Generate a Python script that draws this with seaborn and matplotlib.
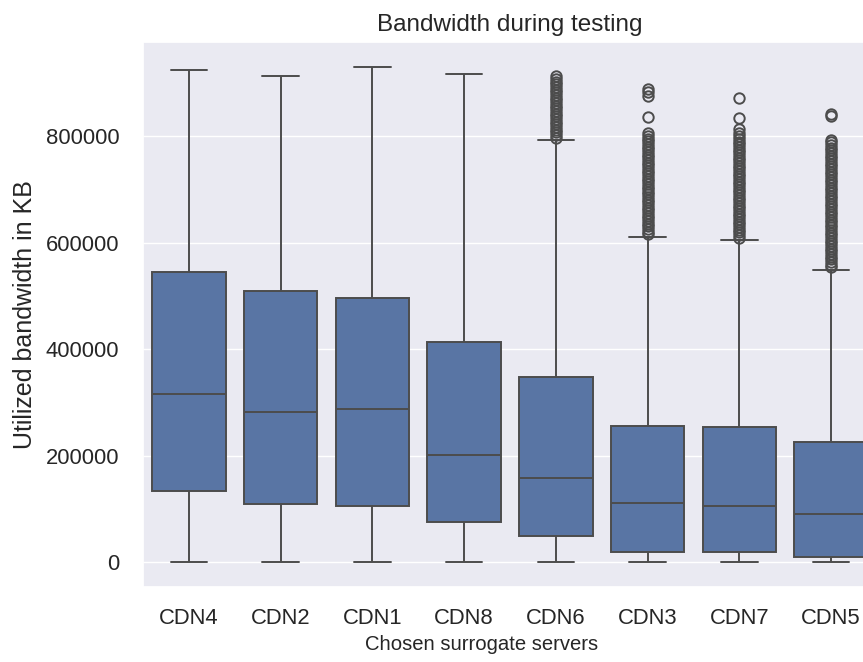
import matplotlib
matplotlib.use("Agg")
import matplotlib.pyplot as plt
import seaborn as sns
import pandas as pd

# Categories in plotted order
servers = ["CDN4", "CDN2", "CDN1", "CDN8", "CDN6", "CDN3", "CDN7", "CDN5"]

# Box statistics (KB)
whisker_low = [0, 0, 0, 0, 0, 0, 0, 0]
q1 = [134600, 110000, 105000, 75000, 49000, 19000, 19000, 9000]
median = [316000, 282000, 288000, 202000, 159000, 112000, 106000, 90000]
q3 = [545700, 510000, 497000, 413000, 348000, 256000, 254000, 226000]
whisker_high = [925000, 914000, 931000, 918000, 794000, 611000, 606000, 550000]

# Outliers (KB); dense runs are listed closely
outliers_cdn6 = [798000, 803000, 808000, 813000, 818000, 823000, 828000, 833000,
                 838000, 843000, 848000, 853000, 858000, 863000, 868000, 873000,
                 878000, 883000, 888000, 893000, 898000, 903000, 908000, 913000]
outliers_cdn3 = [616000, 621000, 626000, 631000, 636000, 641000, 646000, 651000,
                 656000, 661000, 666000, 671000, 676000, 681000, 686000, 691000,
                 696000, 701000, 706000, 711000, 716000, 721000, 726000, 731000,
                 736000, 741000, 746000, 751000, 756000, 761000, 766000, 771000,
                 776000, 781000, 786000, 791000, 796000, 801000, 806000,
                 837000, 877000, 883000, 889000]
outliers_cdn7 = [610000, 615000, 620000, 625000, 630000, 635000, 640000, 645000,
                 650000, 655000, 660000, 665000, 670000, 675000, 680000, 685000,
                 690000, 695000, 700000, 705000, 710000, 715000, 720000, 725000,
                 730000, 735000, 740000, 745000, 750000, 755000, 760000, 765000,
                 770000, 775000, 780000, 785000, 790000, 795000, 800000,
                 806000, 815000, 834000, 872000]
outliers_cdn5 = [554000, 559000, 564000, 569000, 574000, 579000, 584000, 589000,
                 594000, 599000, 604000, 609000, 614000, 619000, 624000, 629000,
                 634000, 639000, 644000, 649000, 654000, 659000, 664000, 669000,
                 674000, 679000, 684000, 689000, 694000, 699000, 704000, 709000,
                 714000, 719000, 724000, 729000, 734000, 739000, 744000, 749000,
                 754000, 759000, 764000, 769000, 774000, 779000, 784000, 789000,
                 793000, 838000, 843000]
outliers = {"CDN6": outliers_cdn6, "CDN3": outliers_cdn3,
            "CDN7": outliers_cdn7, "CDN5": outliers_cdn5}

# Build a long-form table whose quartiles equal the values above
rows = []
for i, s in enumerate(servers):
    outs = outliers.get(s, [])
    b = len(outs) + 2
    vals = ([whisker_low[i]] + [q1[i]] * b + [median[i]] * b + [q3[i]] * b
            + [whisker_high[i]] + outs)
    rows += [(s, v) for v in vals]
df = pd.DataFrame(rows, columns=["server", "bandwidth"])

sns.set_theme(style="darkgrid")
plt.rcParams["font.family"] = ["Liberation Sans", "DejaVu Sans"]

fig = plt.figure(figsize=(8.63, 6.62), dpi=100)
ax = fig.add_axes([143 / 863, 75 / 662, 734 / 863, 545 / 662])

sns.boxplot(data=df, x="server", y="bandwidth", order=servers, ax=ax,
            linewidth=1.4, fliersize=7.5,
            flierprops={"markeredgewidth": 1.4})

ax.set_title("Bandwidth during testing", fontsize=17.5, pad=8)
ax.set_xlabel("Chosen surrogate servers", fontsize=14.6)
ax.xaxis.set_label_coords((482 - 143) / 734, -(635 - 587) / 545)
ax.set_ylabel("Utilized bandwidth in KB", fontsize=18, labelpad=6)
ax.tick_params(axis="both", labelsize=15.8, length=0)
ax.tick_params(axis="x", pad=15)
ax.tick_params(axis="y", pad=17)
ax.ticklabel_format(axis="y", style="plain")

fig.savefig("out.png", dpi=100)
